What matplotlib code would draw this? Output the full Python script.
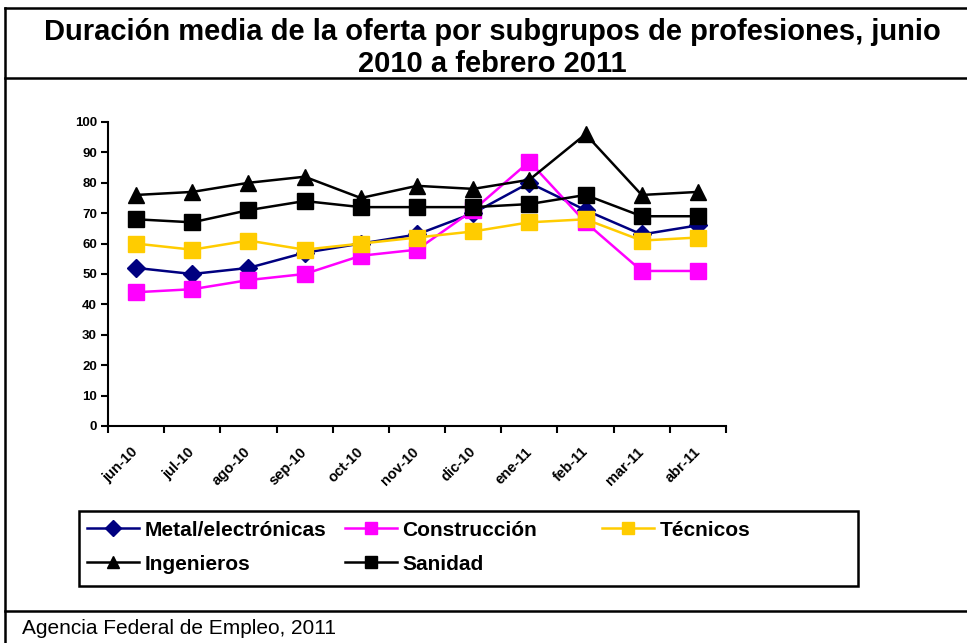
import matplotlib
matplotlib.use("Agg")
import matplotlib.pyplot as plt
from matplotlib.lines import Line2D
from matplotlib.patches import Rectangle

plt.rcParams['font.family'] = ['Liberation Sans', 'DejaVu Sans']

# data
meses = ['jun-10', 'jul-10', 'ago-10', 'sep-10', 'oct-10', 'nov-10',
         'dic-10', 'ene-11', 'feb-11', 'mar-11', 'abr-11']
metal = [52, 50, 52, 57, 60, 63, 70, 80, 71, 63, 66]
construccion = [44, 45, 48, 50, 56, 58, 71, 87, 67, 51, 51]
tecnicos = [60, 58, 61, 58, 60, 62, 64, 67, 68, 61, 62]
ingenieros = [76, 77, 80, 82, 75, 79, 78, 81, 96, 76, 77]
sanidad = [68, 67, 71, 74, 72, 72, 72, 73, 76, 69, 69]

W, H = 967, 643
fig = plt.figure(figsize=(W / 100, H / 100), dpi=100)

def fx(px):
    return px / W

def fy(py):
    return 1 - py / H

ax = fig.add_axes([fx(108), fy(426), fx(726) - fx(108), fy(122) - fy(426)])

x = list(range(len(meses)))
lw = 1.8
l1, = ax.plot(x, metal, color='#000080', lw=lw, marker='D', ms=9, label='Metal/electrónicas')
l2, = ax.plot(x, construccion, color='#FF00FF', lw=lw, marker='s', ms=11, label='Construcción')
l3, = ax.plot(x, tecnicos, color='#FFCC00', lw=lw, marker='s', ms=11, label='Técnicos')
l4, = ax.plot(x, ingenieros, color='black', lw=lw, marker='^', ms=11, label='Ingenieros')
l5, = ax.plot(x, sanidad, color='black', lw=lw, marker='s', ms=11, label='Sanidad')
for ln in (l1, l2, l3, l4, l5):
    ln.set_clip_on(False)

ax.set_xlim(-0.5, len(meses) - 0.5)
ax.set_ylim(0, 100)
ax.set_yticks(range(0, 101, 10))
ax.set_xticks([i - 0.5 for i in range(len(meses) + 1)])
ax.set_xticklabels([])
ax.set_xticks(x, minor=True)
ax.set_xticklabels(meses, minor=True, rotation=45, ha='right', va='center',
                   rotation_mode='anchor', fontsize=10.5, fontweight='bold')
ax.tick_params(axis='x', which='minor', length=0, pad=17)
ax.tick_params(axis='x', which='major', length=5, width=1.5, direction='out')
ax.tick_params(axis='y', length=5, width=1.5, direction='out', labelsize=9.5, pad=3)
for t in ax.get_yticklabels():
    t.set_fontweight('bold')
for s in ('top', 'right'):
    ax.spines[s].set_visible(False)
for s in ('left', 'bottom'):
    ax.spines[s].set_linewidth(1.5)

# frame lines of the chart area
def hline(py, x0=5, x1=W):
    fig.add_artist(Line2D([fx(x0), fx(x1)], [fy(py), fy(py)], color='black', lw=1.8))

hline(8)
hline(78)
hline(611)
fig.add_artist(Line2D([fx(5), fx(5)], [fy(8), fy(H)], color='black', lw=1.8))

fig.text(fx(492), fy(48), 'Duración media de la oferta por subgrupos de profesiones, junio\n2010 a febrero 2011',
         ha='center', va='center', fontsize=21, fontweight='bold', linespacing=1.2)
fig.text(fx(22), fy(628), 'Agencia Federal de Empleo, 2011', ha='left', va='center', fontsize=15)

# legend box with three columns
fig.add_artist(Rectangle((fx(79), fy(586)), fx(858) - fx(79), fy(511) - fy(586),
                         fill=False, edgecolor='black', lw=1.8))
kw = dict(frameon=False, prop={'weight': 'bold', 'size': 15},
          handlelength=2.5, handletextpad=0.25, borderpad=0, borderaxespad=0,
          labelspacing=0.72, markerscale=0.85, loc='center left')
fig.legend([l1, l4], ['Metal/electrónicas', 'Ingenieros'], bbox_to_anchor=(fx(87), fy(547)), **kw)
fig.legend([l2, l5], ['Construcción', 'Sanidad'], bbox_to_anchor=(fx(345), fy(547)), **kw)
fig.legend([l3], ['Técnicos'], bbox_to_anchor=(fx(602), fy(530)), **kw)

fig.savefig('out.png', dpi=100)
